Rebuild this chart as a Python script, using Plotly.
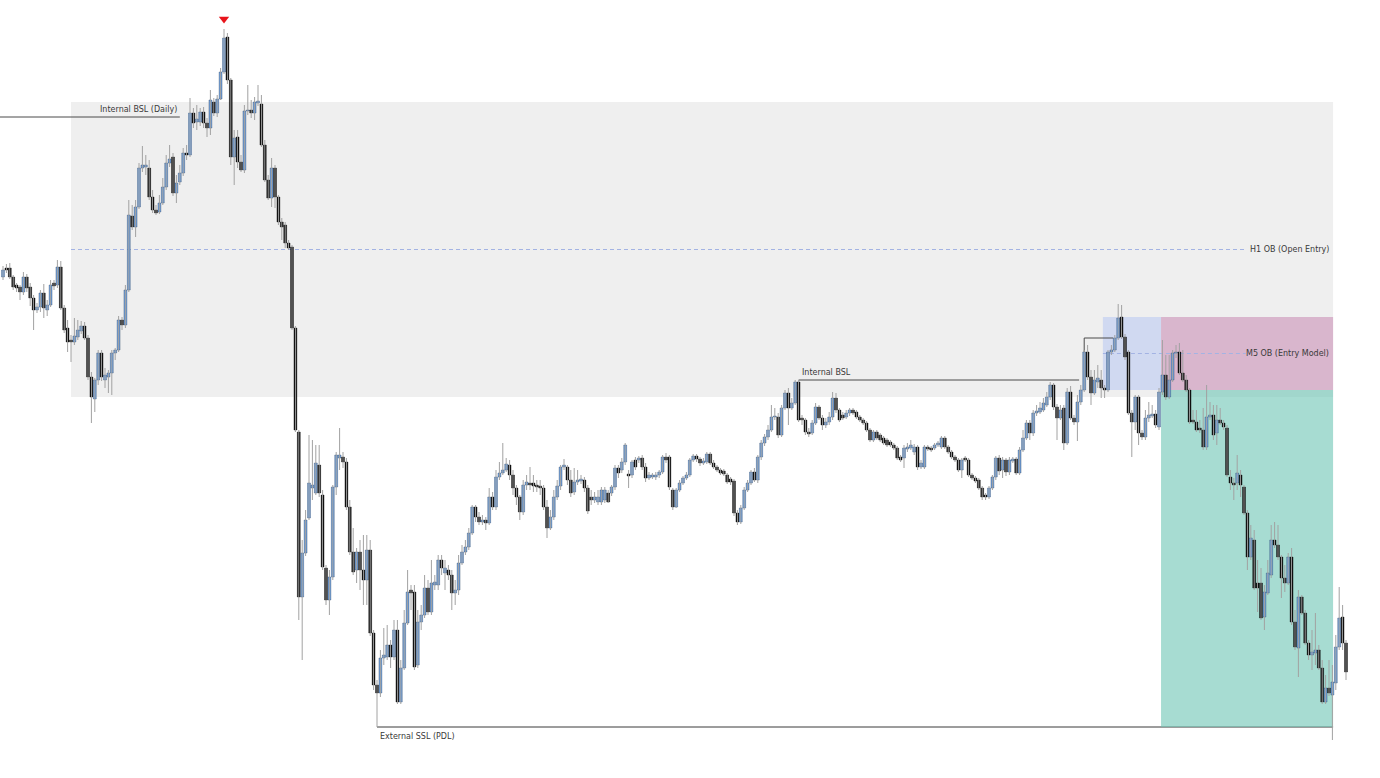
import plotly.graph_objects as go

# ---------------- candle data (price units) ----------------
opens = [
523,532,532,523,515,513,508,523,513,502, 490,493,507,490,495,517,515,533,492,472,
460,458,463,469,474,462,423,401,420,447, 420,423,427,447,450,480,475,510,584,573,
593,632,633,632,603,590,588,597,613,637, 643,607,618,627,647,645,687,678,678,688,
677,672,698,687,701,728,763,720,643,663, 638,630,689,690,687,697,696,655,620,602,
632,603,578,575,557,553,472,368,203,247, 282,312,307,335,305,232,200,223,313,342,
343,338,293,248,230,248,230,220,250,167, 115,107,142,143,155,143,170,98,132,177,
210,208,135,178,185,212,188,215,215,240, 227,230,225,207,210,237,248,253,267,293,
283,278,280,277,303,293,323,327,330,335, 325,312,303,288,315,317,317,315,314,312,
293,272,283,303,314,333,333,320,308,318, 319,320,312,303,300,298,298,300,307,307,
313,332,330,338,326,325,340,340,342,333, 322,323,323,325,328,343,343,310,293,310,
317,322,325,340,344,341,337,338,346,337, 333,330,329,325,321,319,287,278,292,310,
317,328,320,343,357,363,370,383,383,365, 392,407,392,397,418,382,380,368,367,377,
393,382,375,378,383,402,390,385,383,387, 390,388,383,380,377,370,360,368,365,362,
360,358,355,352,343,342,351,352,348,353, 333,333,353,352,352,355,353,362,353,348,
343,340,330,342,340,325,322,320,312,305, 303,312,323,342,330,340,328,339,341,327,
350,362,377,367,387,388,390,395,403,415, 393,382,392,357,408,382,378,398,410,448,
423,407,418,420,412,410,448,450,462,483, 463,448,387,378,403,367,363,382,384,386,
373,408,425,403,420,447,448,427,420,410, 380,378,372,370,353,383,385,367,380,377,
372,323,317,317,325,313,287,243,260,217, 217,183,207,225,260,255,243,222,217,243,
178,152,203,187,157,145,147,150,132,98, 112,105,117,153,183,157]

closes = [
530,530,523,513,512,508,523,512,502,490, 493,507,492,495,515,514,533,492,470,458,
458,464,470,474,462,423,403,420,447,423, 425,427,447,450,480,475,510,585,573,593,
632,635,635,603,590,587,597,613,637,641, 607,617,627,647,645,687,677,681,688,677,
672,700,687,701,728,762,720,643,662,638, 630,689,690,687,698,699,655,620,602,632,
603,578,573,557,552,472,370,203,247,280, 317,315,337,307,233,200,223,313,345,345,
338,293,248,228,248,230,220,250,167,115, 107,142,145,155,143,170,98,132,177,208,
207,133,178,185,212,188,217,218,240,232, 232,225,207,210,237,248,253,267,293,283,
278,280,277,303,293,323,327,330,336,325, 312,303,288,315,318,315,314,313,312,293,
272,283,303,314,333,335,320,307,318,320, 321,312,289,300,303,303,310,310,298,313,
332,327,338,355,324,338,333,342,333,322, 325,325,325,328,343,340,313,293,310,317,
322,325,340,344,341,337,339,346,337,333, 330,327,326,318,318,287,278,292,310,317,
328,320,343,357,363,370,383,384,365,392, 407,392,397,418,380,380,368,366,377,393,
382,375,378,383,402,390,380,382,387,390, 387,383,380,377,370,360,368,362,360,357,
355,355,352,342,340,352,353,355,353,333, 337,353,351,350,355,357,362,353,348,343,
340,330,340,340,325,322,319,312,303,303, 312,323,342,329,340,328,340,341,327,350,
362,377,367,387,389,392,397,403,415,393, 382,390,357,408,382,378,398,410,448,423,
407,420,422,412,410,448,450,462,482,463, 443,387,378,403,367,363,382,385,386,375,
408,425,403,420,447,448,427,420,410,378, 378,370,370,353,383,385,365,380,377,373,
325,317,315,327,315,287,243,262,212,212, 182,208,227,260,255,243,222,217,243,178,
153,203,187,157,145,148,150,132,98,112, 107,118,153,182,157,128]

highs = [
534,536,537,525,517,515,528,526,517,505, 497,510,516,500,520,520,540,539,495,480,
465,482,480,479,478,465,428,422,450,450, 432,430,450,452,484,483,515,600,595,600,
637,654,645,640,610,595,605,622,645,655, 647,625,635,652,655,702,692,695,692,693,
682,710,702,705,732,771,767,722,670,670, 645,695,715,700,703,715,705,660,625,642,
635,605,582,578,560,555,474,370,260,290, 365,360,355,355,310,235,230,315,348,372,
348,342,300,272,252,260,265,265,260,170, 120,150,172,175,160,180,180,140,190,230,
215,215,190,195,225,220,240,225,245,245, 240,235,230,220,245,255,260,272,295,295,
288,285,283,312,308,330,338,357,342,340, 330,315,305,320,325,333,325,320,320,315,
300,290,310,320,335,341,335,330,332,330, 325,323,315,310,308,310,313,313,310,315,
335,335,342,357,330,340,343,344,345,337, 328,327,328,330,345,347,345,312,312,320,
324,328,342,346,346,343,342,348,348,340, 335,332,331,327,323,321,290,295,313,320,
330,332,345,360,366,375,395,392,387,395, 410,412,402,420,420,385,382,372,380,397,
395,385,382,388,408,407,392,388,390,392, 392,390,385,382,379,372,370,370,367,364,
362,360,357,354,345,355,357,360,356,355, 340,355,355,354,357,359,364,364,355,350,
345,342,342,344,342,327,324,322,314,307, 314,325,344,345,343,342,343,343,343,353,
370,380,380,390,395,398,402,408,418,417, 396,395,395,412,414,385,405,415,450,455,
430,430,435,430,415,450,455,465,496,495, 466,450,390,405,405,370,390,398,395,390,
412,460,445,445,450,455,457,450,425,412, 390,390,380,392,415,398,395,395,392,380,
375,330,322,345,330,315,290,275,270,240, 232,215,240,275,278,275,245,235,247,252,
190,210,205,190,160,170,187,155,140,125, 140,135,165,213,195,160]

lows = [
520,527,521,510,508,500,505,508,494,470, 487,488,482,484,493,510,512,490,467,448,
438,455,460,466,460,420,377,388,415,419, 412,407,405,440,448,470,472,508,570,563,
591,628,625,600,587,585,586,595,610,633, 604,597,615,624,640,643,672,670,674,672,
663,665,684,683,700,726,716,635,615,632, 628,627,685,682,680,694,653,618,600,593,
592,575,560,552,550,470,368,180,140,244, 280,300,305,303,230,195,185,220,305,330,
332,290,245,225,217,210,195,195,164,110, 73,103,135,140,132,140,96,96,130,175,
190,130,132,170,182,185,185,210,210,225, 210,220,190,195,205,235,245,250,265,278,
275,275,270,275,290,290,320,325,328,320, 305,295,280,285,310,310,308,308,305,290,
262,270,280,300,310,330,315,303,305,315, 316,308,286,295,297,295,295,297,297,304,
310,322,327,335,312,322,330,337,330,318, 320,321,320,322,326,337,310,290,292,308,
315,320,323,338,338,334,335,336,335,331, 328,325,324,316,315,284,275,276,290,308,
315,318,317,340,354,360,368,380,362,363, 390,375,390,395,378,375,365,363,365,375,
380,370,372,375,380,387,378,380,381,384, 385,381,378,375,368,358,358,360,358,355,
353,353,350,340,338,332,348,350,345,330, 331,331,349,348,350,353,351,351,346,341,
338,328,322,338,323,320,317,310,300,300, 301,310,320,325,322,324,325,337,325,325,
348,360,360,364,384,386,388,393,400,390, 360,380,350,355,380,375,359,395,408,420,
395,405,412,402,402,408,445,448,460,461, 440,385,343,370,355,360,360,378,382,372,
370,405,400,401,418,442,425,418,408,376, 376,368,367,350,350,380,360,355,375,370,
323,310,300,310,303,285,230,240,210,188, 180,170,205,222,252,240,202,208,215,175,
150,123,185,155,140,130,135,130,96,96, 104,60,110,150,150,120]

# ---------------- levels & zones ----------------
h1_ob_low, h1_ob_high = 403, 698          # H1 order block (grey zone)
h1_ob_start = 20
m5_ob_low, m5_ob_high = 410, 483          # M5 order block
m5_ob_start = 323.5
entry_start = 340.6
zone_end = 391.2
daily_bsl = 683                           # Internal BSL (Daily)
daily_bsl_end = 52
bsl_idx = 234                             # Internal BSL swing high
ssl_idx = 110                             # External SSL (PDL) swing low
bos_idx, bos_end, bos_level = 318, 326.5, 462

labels = {
    "daily": "Internal BSL (Daily)",
    "h1": "H1 OB (Open Entry)",
    "m5": "M5 OB (Entry Model)",
    "bsl": "Internal BSL",
    "ssl": "External SSL (PDL)",
}

n = len(closes)
idx = list(range(n))

BLUE = "#6a9ddc"
BLACK = "#000000"

# wicks
wx, wy = [], []
for i in idx:
    wx += [i, i, None]
    wy += [lows[i], highs[i], None]

base = [min(o, c) for o, c in zip(opens, closes)]
height = [max(abs(c - o), 0.8) for o, c in zip(opens, closes)]
fill = [BLUE if c >= o else BLACK for o, c in zip(opens, closes)]
edge = ["#2b4466" if c >= o else BLACK for o, c in zip(opens, closes)]

fig = go.Figure()
fig.add_trace(go.Scatter(x=wx, y=wy, mode="lines",
                         line=dict(color="#a2a2a2", width=1),
                         hoverinfo="skip", showlegend=False))
fig.add_trace(go.Bar(x=idx, y=height, base=base, width=0.84,
                     marker=dict(color=fill, line=dict(color=edge, width=0.4)),
                     hoverinfo="skip", showlegend=False))

peak = max(idx, key=lambda i: highs[i])
fig.add_trace(go.Scatter(x=[peak], y=[highs[peak] + 10], mode="markers",
                         marker=dict(symbol="triangle-down", size=9, color="#e8141b"),
                         hoverinfo="skip", showlegend=False))

shapes = [
    dict(type="rect", x0=h1_ob_start, x1=zone_end, y0=h1_ob_low, y1=h1_ob_high,
         fillcolor="#efefef", line=dict(width=0), layer="below"),
    dict(type="rect", x0=m5_ob_start, x1=entry_start, y0=m5_ob_low, y1=m5_ob_high,
         fillcolor="#d0d9f1", line=dict(width=0), layer="below"),
    dict(type="rect", x0=entry_start, x1=zone_end, y0=m5_ob_low, y1=m5_ob_high,
         fillcolor="#d9b6cd", line=dict(width=0), layer="below"),
    dict(type="line", x0=ssl_idx, x1=zone_end, y0=lows[ssl_idx], y1=lows[ssl_idx],
         line=dict(color="#3a3a3a", width=1), layer="below"),
    dict(type="rect", x0=entry_start, x1=zone_end, y0=lows[ssl_idx], y1=m5_ob_low,
         fillcolor="rgba(108,197,180,0.6)", line=dict(width=0), layer="below"),
    dict(type="line", x0=h1_ob_start, x1=365.5,
         y0=(h1_ob_low + h1_ob_high) / 2, y1=(h1_ob_low + h1_ob_high) / 2,
         line=dict(color="#a3b3e3", width=1, dash="4px,3px"), layer="below"),
    dict(type="line", x0=m5_ob_start, x1=365.5,
         y0=(m5_ob_low + m5_ob_high) / 2, y1=(m5_ob_low + m5_ob_high) / 2,
         line=dict(color="#a3b3e3", width=1, dash="4px,3px"), layer="below"),
    dict(type="line", x0=bsl_idx, x1=316.5, y0=highs[bsl_idx], y1=highs[bsl_idx],
         line=dict(color="#4a4a4a", width=1), layer="below"),
    dict(type="path", path=f"M {bos_idx},{closes[bos_idx]} L {bos_idx},{bos_level} L {bos_end},{bos_level}",
         line=dict(color="#4a4a4a", width=1), layer="below"),
    dict(type="line", x0=-2, x1=daily_bsl_end, y0=daily_bsl, y1=daily_bsl,
         line=dict(color="#4a4a4a", width=1), layer="below"),
]

font = dict(family="DejaVu Sans", size=8, color="#3a3a3a")
annotations = [
    dict(x=daily_bsl_end - 0.5, y=daily_bsl + 8, text=labels["daily"], xanchor="right", yanchor="middle"),
    dict(x=390.3, y=(h1_ob_low + h1_ob_high) / 2, text=labels["h1"], xanchor="right", yanchor="middle"),
    dict(x=390.3, y=(m5_ob_low + m5_ob_high) / 2, text=labels["m5"], xanchor="right", yanchor="middle"),
    dict(x=bsl_idx + 0.6, y=highs[bsl_idx] + 8, text=labels["bsl"], xanchor="left", yanchor="middle"),
    dict(x=ssl_idx + 0.6, y=lows[ssl_idx] - 9, text=labels["ssl"], xanchor="left", yanchor="middle"),
]
for a in annotations:
    a.update(xref="x", yref="y", showarrow=False, font=font, borderpad=0)

fig.update_layout(
    width=1380, height=778,
    margin=dict(l=0, r=0, t=0, b=0),
    paper_bgcolor="white", plot_bgcolor="white",
    showlegend=False, barmode="overlay",
    xaxis=dict(visible=False, range=[-0.882, 405], fixedrange=True),
    yaxis=dict(visible=False, range=[22, 800], fixedrange=True),
    shapes=shapes, annotations=annotations,
)

fig.write_html("out.html")
